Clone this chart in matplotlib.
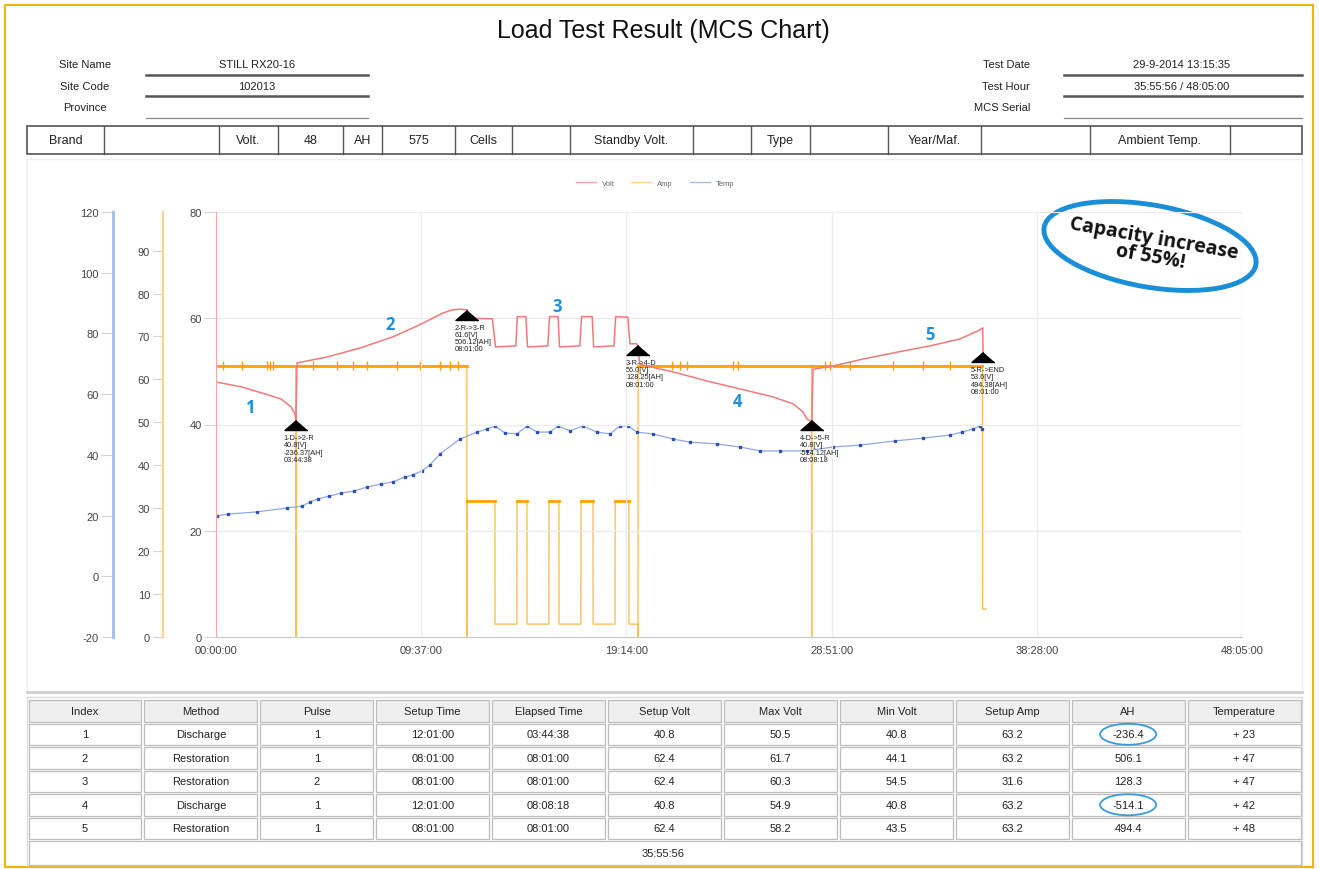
import numpy as np
import matplotlib
matplotlib.use("Agg")
import matplotlib.pyplot as plt
from matplotlib.patches import Rectangle, Ellipse
from matplotlib.lines import Line2D
from matplotlib.transforms import Affine2D

plt.rcParams['font.family'] = ['Liberation Sans', 'DejaVu Sans']
plt.rcParams['axes.unicode_minus'] = False

W, H = 1319, 870
PT = 0.72  # points per pixel at dpi 100

# header info
site_labels = ["Site Name", "Site Code", "Province"]
site_values = ["STILL RX20-16", "102013", ""]
test_labels = ["Test Date", "Test Hour", "MCS Serial"]
test_values = ["29-9-2014 13:15:35", "35:55:56 / 48:05:00", ""]
battery_cells = ["Brand", "", "Volt.", "48", "AH", "575", "Cells", "",
                 "Standby Volt.", "", "Type", "", "Year/Maf.", "",
                 "Ambient Temp.", ""]

# chart series, time in hours
volt_t = [0.0, 1.17, 2.34, 3.05, 3.52, 3.70, 3.744,
          3.80, 5.20, 6.75, 8.29, 9.56, 10.64, 11.10, 11.43, 11.76,
          11.90, 12.95, 13.10, 14.05, 14.12, 14.52, 14.60, 15.55, 15.63,
          16.03, 16.10, 17.05, 17.13, 17.63, 17.70, 18.65, 18.73, 19.30,
          19.40, 19.70, 19.78,
          19.85, 20.20, 21.42, 23.00, 24.55, 26.10, 27.04, 27.50, 27.70, 27.92,
          27.98, 28.90, 30.30, 31.90, 33.46, 34.86, 35.80, 35.93, 35.95]
volt_v = [48.0, 47.1, 45.7, 44.8, 43.3, 42.0, 40.8,
          51.6, 52.7, 54.4, 56.5, 58.8, 61.0, 61.6, 61.7, 61.6,
          60.0, 59.9, 54.6, 54.8, 60.3, 60.3, 54.6, 54.8, 60.3,
          60.3, 54.6, 54.8, 60.3, 60.3, 54.6, 54.8, 60.3, 60.2,
          55.2, 55.2, 54.8,
          51.4, 51.0, 49.9, 48.2, 46.7, 45.2, 43.9, 42.4, 41.0, 40.5,
          50.4, 51.0, 52.3, 53.6, 54.8, 56.1, 57.8, 58.2, 53.6]

amp_t = [0, 3.74, 3.744, 3.75, 11.755, 11.76, 11.765, 13.07, 13.075,
         14.10, 14.105, 14.57, 14.575, 15.60, 15.605, 16.07, 16.075,
         17.10, 17.105, 17.67, 17.675, 18.70, 18.705, 19.35, 19.355,
         19.77, 19.775, 19.78, 27.91, 27.915, 27.92, 35.92, 35.925, 36.10]
amp_v = [63.2, 63.2, 0, 63.2, 63.2, 0, 31.6, 31.6, 3.0,
         3.0, 31.6, 31.6, 3.0, 3.0, 31.6, 31.6, 3.0,
         3.0, 31.6, 31.6, 3.0, 3.0, 31.6, 31.6, 3.0,
         3.0, 0, 63.2, 63.2, 0, 63.2, 63.2, 6.5, 6.5]
# small current ripples on the 63.2 A plateau
amp_ripple_t = [0.33, 1.22, 2.39, 2.53, 2.67, 4.55, 5.67, 6.42, 7.08, 8.48,
                9.56, 10.5, 10.97, 11.34, 21.37, 21.74, 22.07, 24.23, 24.46,
                28.54, 28.77, 29.71, 31.72, 33.13, 34.4]
amp_ripple_level = 63.2

temp_t = [0.05, 0.56, 1.92, 3.33, 4.03, 4.40, 4.78, 5.30, 5.86, 6.47, 7.08,
          7.73, 8.29, 8.86, 9.23, 9.65, 10.03, 10.50, 11.43, 12.23, 12.70,
          13.07, 13.54, 14.10, 14.57, 15.04, 15.65, 16.03, 16.59, 17.20,
          17.85, 18.46, 18.93, 19.31, 19.73, 20.48, 21.42, 22.21, 23.48,
          24.55, 25.49, 26.43, 27.69, 28.91, 30.18, 31.82, 33.13, 34.40,
          34.96, 35.47, 35.80, 35.90]
temp_v = [19.9, 20.5, 21.2, 22.5, 23.1, 24.5, 25.5, 26.4, 27.4, 28.1, 29.4,
          30.4, 31.1, 32.7, 33.4, 34.7, 36.7, 40.3, 45.2, 47.5, 48.5,
          49.5, 47.2, 46.9, 49.5, 47.5, 47.5, 49.5, 47.9, 49.5,
          47.5, 46.9, 49.5, 49.5, 47.5, 46.9, 45.2, 44.2, 43.6,
          42.6, 41.3, 41.3, 41.3, 42.6, 43.2, 44.6, 45.5, 46.5,
          47.5, 48.5, 49.5, 48.5]

# step change markers
step_t = [3.744, 11.761, 19.778, 27.916, 35.932]
step_v = [40.8, 61.6, 55.0, 40.8, 53.6]
step_text = ["1-D->2-R\n40.8[V]\n-236.37[AH]\n03:44:38",
             "2-R->3-R\n61.6[V]\n506.12[AH]\n08:01:00",
             "3-R->4-D\n56.0[V]\n128.25[AH]\n08:01:00",
             "4-D->5-R\n40.8[V]\n-514.12[AH]\n08:08:18",
             "5-R->END\n53.6[V]\n494.38[AH]\n08:01:00"]
phase_names = ["1", "2", "3", "4", "5"]
phase_label_pos = [(1.59, 43.3), (8.15, 58.9), (15.98, 62.3), (24.46, 44.4), (33.46, 57.0)]

x_ticks = [0, 9.6167, 19.2333, 28.85, 38.4667, 48.0833]
x_tick_labels = ["00:00:00", "09:37:00", "19:14:00", "28:51:00", "38:28:00", "48:05:00"]

# result table
col_names = ["Index", "Method", "Pulse", "Setup Time", "Elapsed Time", "Setup Volt",
             "Max Volt", "Min Volt", "Setup Amp", "AH", "Temperature"]
idx = [1, 2, 3, 4, 5]
method = ["Discharge", "Restoration", "Restoration", "Discharge", "Restoration"]
pulse = [1, 1, 2, 1, 1]
setup_time = ["12:01:00", "08:01:00", "08:01:00", "12:01:00", "08:01:00"]
elapsed = ["03:44:38", "08:01:00", "08:01:00", "08:08:18", "08:01:00"]
setup_volt = [40.8, 62.4, 62.4, 40.8, 62.4]
max_volt = [50.5, 61.7, 60.3, 54.9, 58.2]
min_volt = [40.8, 44.1, 54.5, 40.8, 43.5]
setup_amp = [63.2, 63.2, 31.6, 63.2, 63.2]
ah = [-236.4, 506.1, 128.3, -514.1, 494.4]
temperature = [23, 47, 47, 42, 48]
total_time = "35:55:56"

fig = plt.figure(figsize=(W / 100, H / 100), dpi=100)
# pixel coords, origin top-left
px = Affine2D().scale(1 / 100, -1 / 100).translate(0, H / 100) + fig.dpi_scale_trans


def hline(x0, x1, y, color, lw):
    fig.add_artist(Line2D([x0, x1], [y, y], transform=px, color=color, lw=lw))


def box(x, y, w, h, ec, fc='none', lw=1.0):
    fig.add_artist(Rectangle((x, y), w, h, transform=px, ec=ec, fc=fc, lw=lw))


def txt(x, y, s, size=8.5, ha='center', **kw):
    fig.text(x, y, s, transform=px, ha=ha, va='center', fontsize=size, **kw)


# page frame
box(5, 6, 1308, 862, ec='#f5b400', lw=1.5)
txt(663, 31, "Load Test Result (MCS Chart)", size=18, color='#111111')

for i in range(3):
    y = 65 + i * 21.5
    txt(85, y, site_labels[i], size=8, color='#222222')
    txt(257, y, site_values[i], size=8, color='#222222')
    hline(146, 368, y + 10.5, '#555555' if i < 2 else '#888888', 1.8 if i < 2 else 0.9)
    txt(1030, y, test_labels[i], size=8, ha='right', color='#222222')
    txt(1182, y, test_values[i], size=8, color='#222222')
    hline(1064, 1302, y + 10.5, '#555555' if i < 2 else '#888888', 1.8 if i < 2 else 0.9)

edges = [27, 104, 219, 278, 343, 382, 455, 512, 570, 693, 751, 810, 888, 981, 1090, 1230, 1302]
box(27, 127, 1275, 28, ec='#555555', lw=1.2)
for i, s in enumerate(battery_cells):
    if i > 0:
        fig.add_artist(Line2D([edges[i], edges[i]], [127, 155], transform=px,
                              color='#555555', lw=1.0))
    txt((edges[i] + edges[i + 1]) / 2, 141, s, size=9, color='#222222')

# chart frame
box(27, 160, 1275, 533, ec='#eeeeee', lw=1.0)
hline(27, 1302, 693, '#cfcfcf', 2.0)

ax = fig.add_axes([216 / W, 1 - 638 / H, (1242 - 216) / W, (638 - 213) / H])
ax_amp = ax.twinx()
ax_tmp = ax.twinx()
ax.set_zorder(3)
ax.patch.set_visible(False)

ax_tmp.plot(temp_t, temp_v, color='#8fa8e4', lw=0.9, marker='s', ms=1.8,
            mfc='#2c4fb5', mec='#2c4fb5')
ax_amp.plot(amp_t, amp_v, color='#ffbe5c', lw=1.0)
amp_arr = np.array(amp_v, dtype=float)
amp_high = np.where(amp_arr >= 31.6, amp_arr, np.nan)
ax_amp.plot(amp_t, amp_high, color='#ffa200', lw=2.0)
ax_amp.vlines(amp_ripple_t, amp_ripple_level - 1.1, amp_ripple_level + 1.1,
              color='#ff9d00', lw=1.0)
ax.plot(volt_t, volt_v, color='#f07a7a', lw=1.1)

tri = [(0, 0), (-1, -0.87), (1, -0.87)]
ax.plot(step_t, step_v, ls='none', marker=tri, ms=23 * PT, color='black')
for t, v, s in zip(step_t, step_v, step_text):
    ax.annotate(s, xy=(t, v), xytext=(-12, -14), textcoords='offset pixels',
                ha='left', va='top', fontsize=5.3, color='#222222', linespacing=1.05)
for s, (t, v) in zip(phase_names, phase_label_pos):
    ax.text(t, v, s, fontsize=12, fontweight='bold', color='#1e90d8',
            ha='center', va='center', family=['Open Sans', 'DejaVu Sans'])

ax.set_xlim(0, x_ticks[-1])
ax.set_ylim(0, 80)
ax_amp.set_ylim(0, 99)
ax_tmp.set_ylim(-20, 120)
ax.set_xticks(x_ticks)
ax.set_xticklabels(x_tick_labels)
ax.set_yticks([0, 20, 40, 60, 80])
ax_amp.set_yticks(range(0, 91, 10))
ax_tmp.set_yticks(range(-20, 121, 20))
ax.grid(True, color='#ececec', lw=0.9)

for a in (ax, ax_amp, ax_tmp):
    for side in ('top', 'right'):
        a.spines[side].set_visible(False)
ax.spines['left'].set_color('#f5a8a8')
ax.spines['bottom'].set_color('#c8c8c8')
for a, off, col, lw, tl, pad in ((ax_amp, 53, '#ffd48f', 1.6, 10, 3),
                                 (ax_tmp, 103, '#a9bfee', 2.2, 12, 2)):
    a.spines['bottom'].set_visible(False)
    a.spines['left'].set_visible(True)
    a.spines['left'].set_position(('outward', off * PT))
    a.spines['left'].set_color(col)
    a.spines['left'].set_linewidth(lw)
    a.yaxis.set_ticks_position('left')
    a.tick_params(axis='y', length=tl * PT, color='#d4d4d4', labelsize=8,
                  labelcolor='#444444', pad=pad * PT)
ax.tick_params(axis='y', length=12 * PT, color='#d4d4d4', labelsize=8,
               labelcolor='#444444', pad=2 * PT)
ax.tick_params(axis='x', length=0, labelsize=8, labelcolor='#444444', pad=8 * PT)

handles = [Line2D([], [], color='#f4a3a3', lw=1), Line2D([], [], color='#ffd08a', lw=1),
           Line2D([], [], color='#a8bbe8', lw=1)]
fig.legend(handles, ["Volt", "Amp", "Temp"], loc='center',
           bbox_to_anchor=(655 / W, 1 - 184 / H), ncol=3, frameon=False,
           fontsize=5.5, handlelength=2.6, columnspacing=2.2, labelcolor='#666666')

# capacity badge
fig.add_artist(Ellipse((1150, 247), 215, 82, angle=10, transform=px,
                       fc='white', ec='#1a8ed6', lw=3.5))
fig.text(1152, 248, "Capacity increase\nof 55%!", transform=px, ha='center', va='center',
         rotation=-10, fontsize=14, fontweight='bold', color='#111111',
         linespacing=0.95, family=['Open Sans', 'DejaVu Sans'])

# result table
cw = 1275 / 11
rh = 23.5
box(27, 698, 1275, 168, ec='#dddddd', lw=1.0)
rows = []
for i in range(5):
    rows.append([str(idx[i]), method[i], str(pulse[i]), setup_time[i], elapsed[i],
                 f"{setup_volt[i]}", f"{max_volt[i]}", f"{min_volt[i]}",
                 f"{setup_amp[i]}", f"{ah[i]}", f"+ {temperature[i]}"])
for r, cells in enumerate([col_names] + rows):
    y0 = 700 + r * rh
    for c, s in enumerate(cells):
        x0 = 27 + c * cw
        box(x0 + 1.5, y0 + 1, cw - 3, rh - 2, ec='#bdbdbd',
            fc='#efefef' if r == 0 else 'white', lw=0.9)
        txt(x0 + cw / 2, y0 + rh / 2, s, size=8, color='#222222')
        if r > 0 and c == 9 and ah[r - 1] < -200:
            fig.add_artist(Ellipse((x0 + cw / 2, y0 + rh / 2), 56, 21, transform=px,
                                   fc='none', ec='#3a9ad9', lw=1.3))
y0 = 700 + 6 * rh
box(28.5, y0 + 1, 1272, 24, ec='#bdbdbd', fc='white', lw=0.9)
txt(663, y0 + 13, total_time, size=8, color='#222222')

fig.savefig("out.png", dpi=100)
